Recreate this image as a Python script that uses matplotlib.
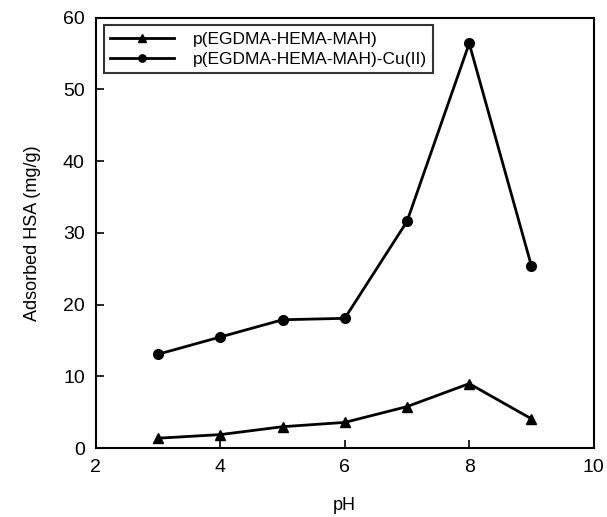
import numpy as np
import matplotlib.pyplot as plt

plt.rcParams['font.family'] = ['Liberation Sans', 'DejaVu Sans']

ph = [3, 4, 5, 6, 7, 8, 9]
plain = [1.4, 1.9, 3.0, 3.6, 5.8, 9.0, 4.1]
copper = [13.1, 15.5, 17.9, 18.1, 31.6, 56.4, 25.4]

fig = plt.figure(figsize=(6.07, 5.17), dpi=100)
ax = fig.add_axes([0.158, 0.133, 0.820, 0.833])

ax.plot(ph, plain, color='black', lw=2, marker='^', ms=7,
        label='p(EGDMA-HEMA-MAH)')
ax.plot(ph, copper, color='black', lw=2, marker='o', ms=7,
        label='p(EGDMA-HEMA-MAH)-Cu(II)')

ax.set_xlim(2, 10)
ax.set_ylim(0, 60)
ax.set_xticks([2, 4, 6, 8, 10])
ax.set_yticks(range(0, 61, 10))
ax.tick_params(direction='in', labelsize=14, length=6, width=1.2, pad=8)
for s in ax.spines.values():
    s.set_linewidth(1.5)

ax.set_xlabel('pH', fontsize=13, labelpad=15)
ax.set_ylabel('Adsorbed HSA (mg/g)', fontsize=13, labelpad=16)

leg = ax.legend(loc='upper left', fontsize=12.5, frameon=True, fancybox=False,
                edgecolor='black', borderaxespad=0.45, handlelength=3.7,
                handletextpad=1.1, labelspacing=0.3, markerscale=0.75,
                borderpad=0.35)
leg.get_frame().set_linewidth(1.5)

fig.savefig('out.png', dpi=100)
